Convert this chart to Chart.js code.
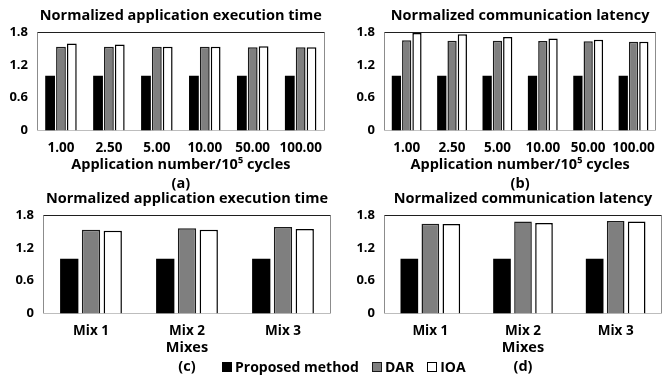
<!DOCTYPE html>
<html lang="en">
<head>
    <meta charset="UTF-8">
    <title>Normalized execution time and communication latency</title>
    <script src="https://cdn.jsdelivr.net/npm/chart.js"></script>
    <style>
        body { margin: 0; background: #fff; font-family: 'Open Sans', sans-serif; }
        .wrap { position: relative; width: 665px; height: 375px; overflow: hidden; background: #fff; }
        .wrap canvas { position: absolute; }
        .legend {
            position: absolute; left: 222px; top: 357px;
            font: 700 14px 'Open Sans', sans-serif; color: #000;
            display: flex; align-items: center; white-space: nowrap;
        }
        .legend span { display: flex; align-items: center; margin-right: 13px; }
        .legend i { display: inline-block; width: 10px; height: 10px; box-sizing: border-box; margin-right: 3px; }
    </style>
</head>
<body>
<div class="wrap">
    <canvas id="chartA" width="332" height="196" style="left:0;top:0"></canvas>
    <canvas id="chartB" width="333" height="196" style="left:332px;top:0"></canvas>
    <canvas id="chartC" width="332" height="196" style="left:0;top:183px"></canvas>
    <canvas id="chartD" width="333" height="196" style="left:332px;top:183px"></canvas>
    <div class="legend">
        <span><i style="background:#000"></i>Proposed method</span>
        <span><i style="background:#7f7f7f;border:1.5px solid #1a1a1a"></i>DAR</span>
        <span><i style="background:#fff;border:1.5px solid #000"></i>IOA</span>
    </div>
</div>

<script>
    // categories
    const appCats = ['1.00', '2.50', '5.00', '10.00', '50.00', '100.00'];
    const mixCats = ['Mix 1', 'Mix 2', 'Mix 3'];
    const yTicks = [0, 0.6, 1.2, 1.8];

    // (a) execution time vs application number
    const execAppProposed = [1, 1, 1, 1, 1, 1];
    const execAppDAR = [1.53, 1.53, 1.53, 1.53, 1.52, 1.52];
    const execAppIOA = [1.59, 1.57, 1.53, 1.53, 1.54, 1.52];

    // (b) latency vs application number
    const latAppProposed = [1, 1, 1, 1, 1, 1];
    const latAppDAR = [1.65, 1.64, 1.64, 1.635, 1.63, 1.62];
    const latAppIOA = [1.78, 1.76, 1.71, 1.68, 1.66, 1.62];

    // (c) execution time per mix
    const execMixProposed = [1, 1, 1];
    const execMixDAR = [1.53, 1.56, 1.58];
    const execMixIOA = [1.51, 1.53, 1.545];

    // (d) latency per mix
    const latMixProposed = [1, 1, 1];
    const latMixDAR = [1.64, 1.68, 1.69];
    const latMixIOA = [1.635, 1.655, 1.68];

    Chart.defaults.color = '#000';
    Chart.defaults.font.family = "'Open Sans', sans-serif";

    // plot frame: dark top, grey sides, light axis line at the bottom
    const framePlugin = {
        id: 'frame',
        beforeDatasetsDraw(chart) {
            const { ctx, chartArea: a } = chart;
            const l = Math.round(a.left) + 0.5, r = Math.round(a.right) - 0.5;
            const t = Math.round(a.top) + 0.5, b = Math.round(a.bottom) - 0.5;
            ctx.save();
            ctx.lineWidth = 1;
            ctx.strokeStyle = '#8c8c8c';
            ctx.beginPath();
            ctx.moveTo(l, b); ctx.lineTo(l, t);
            ctx.moveTo(r, t); ctx.lineTo(r, b);
            ctx.stroke();
            ctx.strokeStyle = '#1f1f1f';
            ctx.beginPath();
            ctx.moveTo(l, t); ctx.lineTo(r, t);
            ctx.stroke();
            ctx.strokeStyle = '#bdbdbd';
            ctx.beginPath();
            ctx.moveTo(l, b); ctx.lineTo(r, b);
            ctx.stroke();
            ctx.restore();
        }
    };

    function makeChart(id, title, cats, prop, dar, ioa, xTitle, yWidth, padRight, barPct) {
        new Chart(document.getElementById(id), {
            type: 'bar',
            data: {
                labels: cats,
                datasets: [
                    { label: 'Proposed method', data: prop, backgroundColor: '#000', borderWidth: 0 },
                    { label: 'DAR', data: dar, backgroundColor: '#7f7f7f', borderColor: '#1a1a1a', borderWidth: 1.5 },
                    { label: 'IOA', data: ioa, backgroundColor: '#fff', borderColor: '#000', borderWidth: 1.5 }
                ]
            },
            options: {
                responsive: false,
                animation: false,
                datasets: { bar: { categoryPercentage: 0.68, barPercentage: barPct } },
                layout: { padding: { left: 0, right: padRight, top: 0, bottom: 2.5 } },
                plugins: {
                    legend: { display: false },
                    tooltip: { enabled: false },
                    title: {
                        display: true,
                        fullSize: false,   // centre over the plot, not the canvas
                        text: title,
                        font: { size: 14.5, weight: 'bold', lineHeight: 1.2 },
                        padding: { top: 7, bottom: 7.6 }
                    }
                },
                scales: {
                    x: {
                        grid: { display: false, drawTicks: false },
                        border: { display: false },
                        ticks: { font: { size: 13.5, weight: 'bold' }, padding: 9.5, maxRotation: 0, autoSkip: false },
                        title: {
                            display: true,
                            text: xTitle,
                            font: { size: 14.5, weight: 'bold', lineHeight: 1.3 },
                            padding: { top: 0, bottom: 0 }
                        },
                        afterFit(scale) { scale.height = 63; }
                    },
                    y: {
                        min: 0,
                        max: 1.8,
                        grid: { display: false, drawTicks: false },
                        border: { display: false },
                        afterBuildTicks(scale) { scale.ticks = yTicks.map(v => ({ value: v })); },
                        ticks: {
                            font: { size: 13, weight: 'bold' },
                            padding: 9,
                            callback: v => v === 0 ? '0' : v.toFixed(1)
                        },
                        afterFit(scale) { scale.width = yWidth; }
                    }
                }
            },
            plugins: [framePlugin]
        });
    }

    const appTitle = 'Application number/10\u2075 cycles';

    makeChart('chartA', 'Normalized application execution time', appCats,
        execAppProposed, execAppDAR, execAppIOA, [appTitle, '(a)'], 37, 6, 0.9);
    makeChart('chartB', 'Normalized communication latency', appCats,
        latAppProposed, latAppDAR, latAppIOA, [appTitle, '(b)'], 52, 8, 0.9);
    makeChart('chartC', 'Normalized application execution time', mixCats,
        execMixProposed, execMixDAR, execMixIOA, ['Mixes', '(c)'], 43, 1, 0.84);
    makeChart('chartD', 'Normalized communication latency', mixCats,
        latMixProposed, latMixDAR, latMixIOA, ['Mixes', '(d)'], 52, 3, 0.84);
</script>
</body>
</html>
